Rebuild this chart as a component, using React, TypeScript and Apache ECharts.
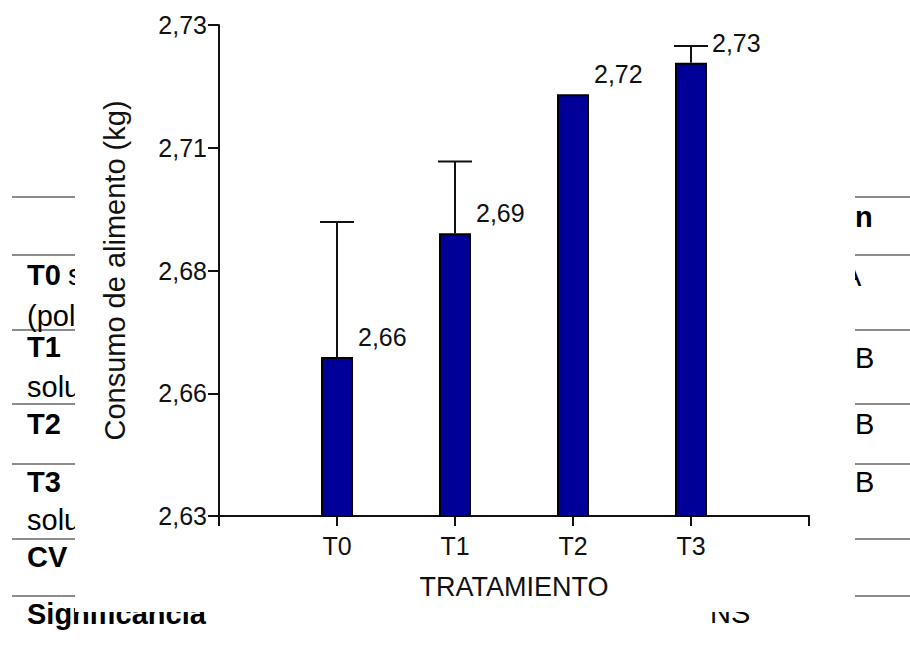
import React, { useEffect, useRef } from "react";
import * as echarts from "echarts";

const categories = ["T0", "T1", "T2", "T3"];
const means = [2.6624, 2.6876, 2.7159, 2.7223];
const upperBars = [2.6899, 2.7022, null, 2.7257];
const barLabels = ["2,66", "2,69", "2,72", "2,73"];
const yTicks = [2.63, 2.655, 2.68, 2.705, 2.73];
const yTickLabels = ["2,63", "2,66", "2,68", "2,71", "2,73"];
const yName = "Consumo de alimento (kg)";
const xName = "TRATAMIENTO";

// background table fragments
const leftRows = [
  { bold: "T0", rest: "s" },
  { bold: "", rest: "(pol" },
  { bold: "T1", rest: "" },
  { bold: "", rest: "solu" },
  { bold: "T2", rest: "" },
  { bold: "T3", rest: "" },
  { bold: "", rest: "solu" },
  { bold: "CV", rest: "" },
  { bold: "Significancia", rest: "" },
];
const rightCells = ["n", "A", "B", "B", "B", "NS"];

const FONT = "'Liberation Sans', Arial, sans-serif";

export default function App() {
  const ref = useRef<HTMLDivElement>(null);
  useEffect(() => {
    if (!ref.current) return;
    const chart = echarts.init(ref.current, undefined, { renderer: "svg" });

    const leftY = [275, 316, 347, 387, 424, 482, 520, 557, 614];
    const lineYs = [197, 255, 330, 404, 464, 539, 596];
    const graphics: any[] = [];
    lineYs.forEach((y) => {
      graphics.push({ type: "line", z: 0, shape: { x1: 12, y1: y, x2: 75, y2: y }, style: { stroke: "#8c8c8c", lineWidth: 2 } });
      graphics.push({ type: "line", z: 0, shape: { x1: 855, y1: y, x2: 910, y2: y }, style: { stroke: "#8c8c8c", lineWidth: 2 } });
    });
    leftRows.forEach((r, i) => {
      if (r.bold) {
        graphics.push({ type: "text", z: 0, x: 27, y: leftY[i], style: { text: r.bold, font: `bold 29px ${FONT}`, fill: "#000", verticalAlign: "middle" } });
      }
      if (r.rest) {
        graphics.push({ type: "text", z: 0, x: r.bold ? 68 : 27, y: leftY[i], style: { text: r.rest, font: `29px ${FONT}`, fill: "#000", verticalAlign: "middle" } });
      }
    });
    const rightPos = [
      { x: 855, y: 217, bold: true },
      { x: 842, y: 276, bold: false },
      { x: 855, y: 358, bold: false },
      { x: 855, y: 424, bold: false },
      { x: 855, y: 482, bold: false },
      { x: 710, y: 613, bold: false },
    ];
    rightCells.forEach((t, i) => {
      const p = rightPos[i];
      graphics.push({ type: "text", z: 0, x: p.x, y: p.y, style: { text: t, font: `${p.bold ? "bold " : ""}29px ${FONT}`, fill: "#000", verticalAlign: "middle" } });
    });
    graphics.push({ type: "rect", z: 1, shape: { x: 75, y: 0, width: 780, height: 612 }, style: { fill: "#fff" } });

    const xData = ["", ...categories, ""];
    const barData: any[] = ["-", ...means, "-"];
    const errData = categories
      .map((c, i) => [i + 1, means[i], upperBars[i]])
      .filter((d) => d[2] !== null);

    const option: any = {
      animation: false,
      backgroundColor: "#fff",
      graphic: { elements: graphics },
      grid: { left: 219, right: 101, top: 25, bottom: 130, containLabel: false },
      xAxis: {
        type: "category",
        data: xData,
        boundaryGap: false,
        z: 5,
        name: xName,
        nameLocation: "middle",
        nameGap: 57,
        nameTextStyle: { fontFamily: FONT, fontSize: 27, color: "#111" },
        axisLine: { lineStyle: { color: "#111", width: 2 } },
        axisTick: { show: true, length: 10, interval: 0, lineStyle: { color: "#111", width: 2 } },
        axisLabel: { interval: 0, margin: 17, fontFamily: FONT, fontSize: 25, color: "#111" },
        splitLine: { show: false },
      },
      yAxis: {
        type: "value",
        min: yTicks[0],
        max: yTicks[yTicks.length - 1],
        z: 5,
        name: yName,
        nameLocation: "middle",
        nameGap: 90,
        nameTextStyle: { fontFamily: FONT, fontSize: 29, color: "#111" },
        axisLine: { show: true, lineStyle: { color: "#111", width: 2 } },
        axisTick: { show: true, length: 11, customValues: yTicks, lineStyle: { color: "#111", width: 2 } },
        axisLabel: {
          margin: 12,
          customValues: yTicks,
          fontFamily: FONT,
          fontSize: 25,
          color: "#111",
          formatter: (v: number) => {
            let best = 0;
            yTicks.forEach((t, i) => {
              if (Math.abs(t - v) < Math.abs(yTicks[best] - v)) best = i;
            });
            return yTickLabels[best];
          },
        },
        splitLine: { show: false },
      },
      series: [
        {
          type: "bar",
          z: 6,
          data: barData,
          barWidth: 32,
          itemStyle: { color: "#000099", borderColor: "#000", borderWidth: 2 },
          label: {
            show: true,
            position: [37, -20],
            align: "left",
            verticalAlign: "middle",
            fontFamily: FONT,
            fontSize: 25,
            color: "#111",
            formatter: (p: any) => barLabels[p.dataIndex - 1] ?? "",
          },
        },
        {
          type: "custom",
          z: 7,
          data: errData,
          renderItem: (params: any, api: any) => {
            const base = api.coord([api.value(0), api.value(1)]);
            const top = api.coord([api.value(0), api.value(2)]);
            const half = 17;
            const st = { stroke: "#111", lineWidth: 2 };
            return {
              type: "group",
              children: [
                { type: "line", shape: { x1: base[0], y1: base[1], x2: top[0], y2: top[1] }, style: st },
                { type: "line", shape: { x1: top[0] - half, y1: top[1], x2: top[0] + half, y2: top[1] }, style: st },
              ],
            };
          },
        },
      ],
    };
    chart.setOption(option);
    return () => chart.dispose();
  }, []);
  return <div ref={ref} style={{ position: "fixed", left: 0, top: 0, width: 910, height: 646 }} />;
}
